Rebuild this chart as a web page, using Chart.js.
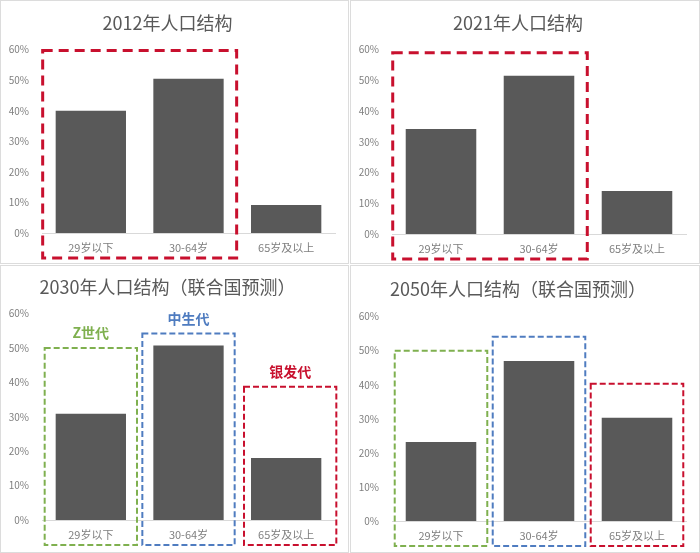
<!DOCTYPE html>
<html>
<head>
<meta charset="utf-8">
<script src="https://cdn.jsdelivr.net/npm/chart.js@4.4.1/dist/chart.umd.min.js"></script>
<style>
  body { margin: 0; background: #fff; width: 700px; height: 553px; position: relative; overflow: hidden; }
  canvas { position: absolute; }
</style>
</head>
<body>
<canvas id="c2012" width="349" height="264" style="left:0;top:0"></canvas>
<canvas id="c2021" width="350" height="264" style="left:350px;top:0"></canvas>
<canvas id="c2030" width="349" height="288" style="left:0;top:265px"></canvas>
<canvas id="c2050" width="350" height="288" style="left:350px;top:265px"></canvas>
<script>
// population share by age group (%)
const categories = ['29岁以下', '30-64岁', '65岁及以上'];
const share2012 = [40, 50.5, 9.2];
const share2021 = [34.2, 51.5, 14];
const share2030 = [30.9, 50.7, 18];
const share2050 = [23.2, 47, 30.3];

const FONT = '"Noto Sans CJK SC", "Noto Sans", sans-serif';
const RED = '#c8102e', GREEN = '#7fb04f', BLUE = '#4f7cc0';

// panel frame + dashed boxes drawn round groups of bars
function boxPlugin(style, list) {
  return {
    id: 'boxes',
    beforeDraw(chart) {
      const c = chart.ctx;
      c.save();
      c.fillStyle = '#fff';
      c.fillRect(0, 0, chart.width, chart.height);
      c.strokeStyle = '#dcdcdc';
      c.lineWidth = 1;
      c.strokeRect(0.5, 0.5, chart.width - 1, chart.height - 1);
      c.restore();
    },
    afterDatasetsDraw(chart) {
      const c = chart.ctx;
      const meta = chart.getDatasetMeta(0);
      const y = chart.scales.y;
      list.forEach(b => {
        const a = meta.data[b.from], z = meta.data[b.to];
        const shift = b.shift || 0;
        const left = a.x - a.width / 2 - style.pad + shift;
        const right = z.x + z.width / 2 + style.pad + shift;
        const top = y.getPixelForValue(b.top);
        const bottom = chart.chartArea.bottom + style.below;
        c.save();
        c.strokeStyle = b.color;
        c.lineWidth = style.width;
        c.setLineDash(style.dash);
        c.strokeRect(left, top, right - left, bottom - top);
        if (b.label) {
          c.setLineDash([]);
          c.fillStyle = b.color;
          c.font = 'bold 14px ' + FONT;
          c.textAlign = 'center';
          c.textBaseline = 'middle';
          c.fillText(b.label, (left + right) / 2, top - 15);
        }
        c.restore();
      });
    }
  };
}

function makeChart(id, title, values, titlePad, axisH, style, boxes) {
  new Chart(document.getElementById(id), {
    type: 'bar',
    data: {
      labels: categories,
      datasets: [{
        data: values,
        backgroundColor: '#595959',
        categoryPercentage: 1,
        barPercentage: 0.72
      }]
    },
    options: {
      responsive: false,
      animation: false,
      layout: { padding: { right: 14, left: 0 } },
      plugins: {
        legend: { display: false },
        tooltip: { enabled: false },
        title: {
          display: true,
          text: title,
          color: '#595959',
          font: { size: 18, family: FONT, weight: 'normal' },
          padding: titlePad
        }
      },
      scales: {
        x: {
          grid: { display: false, drawTicks: false },
          border: { color: '#d9d9d9' },
          ticks: { color: '#7f7f7f', font: { size: 11, family: FONT }, padding: 8 },
          afterFit: s => { s.height = axisH; }
        },
        y: {
          min: 0,
          max: 60,
          grid: { display: false, drawTicks: false },
          border: { display: false },
          ticks: {
            stepSize: 10,
            color: '#7f7f7f',
            font: { size: 10, family: FONT },
            padding: 13,
            callback: v => v + '%'
          },
          afterFit: s => { s.width = 42; }
        }
      }
    },
    plugins: [boxPlugin(style, boxes)]
  });
}

const thick = { pad: 13, below: 25, width: 3, dash: [10, 6] };
const thin = { pad: 11, below: 25, width: 2, dash: [6, 3] };

makeChart('c2012', '2012年人口结构', share2012, { top: 12, bottom: 16 }, 31, thick,
  [{ from: 0, to: 1, top: 59.7, color: RED }]);
makeChart('c2021', '2021年人口结构', share2021, { top: 12, bottom: 16 }, 30, thick,
  [{ from: 0, to: 1, top: 59, color: RED }]);
makeChart('c2030', '2030年人口结构（联合国预测）', share2030, { top: 11, bottom: 16 }, 33, thin, [
  { from: 0, to: 0, top: 50, color: GREEN, label: 'Z世代' },
  { from: 1, to: 1, top: 54.2, color: BLUE, label: '中生代' },
  { from: 2, to: 2, top: 38.7, color: RED, label: '银发代', shift: 4 }
]);
makeChart('c2050', '2050年人口结构（联合国预测）', share2050, { top: 13, bottom: 17 }, 32, thin, [
  { from: 0, to: 0, top: 50, color: GREEN },
  { from: 1, to: 1, top: 54.1, color: BLUE },
  { from: 2, to: 2, top: 40.3, color: RED }
]);
</script>
</body>
</html>
